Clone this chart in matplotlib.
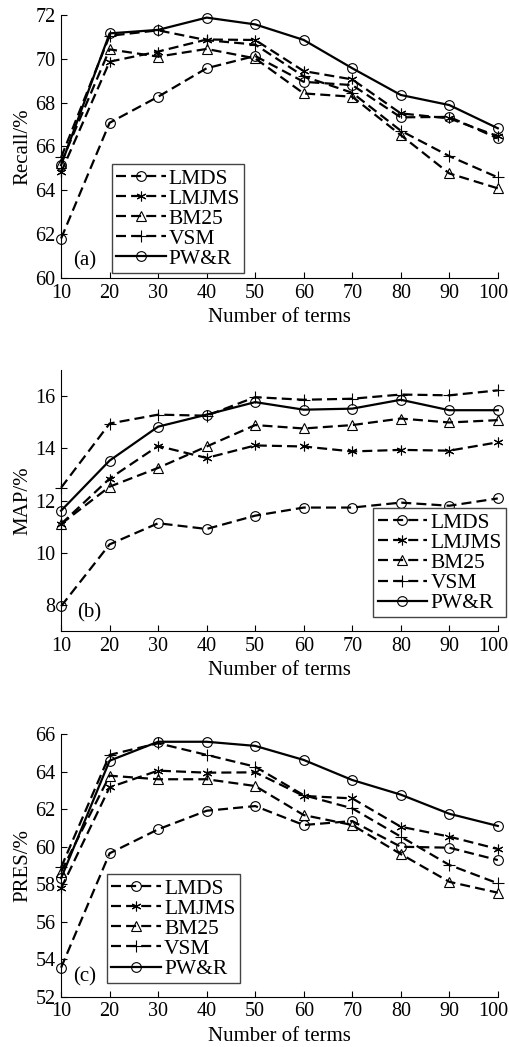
import matplotlib
matplotlib.use("Agg")
import matplotlib.pyplot as plt
from matplotlib.transforms import ScaledTranslation

plt.rcParams['font.family'] = ['Liberation Serif', 'DejaVu Serif']

terms = [10, 20, 30, 40, 50, 60, 70, 80, 90, 100]
methods = ["LMDS", "LMJMS", "BM25", "VSM", "PW&R"]

recall_lmds = [61.8, 67.08, 68.27, 69.57, 70.13, 68.95, 68.8, 67.33, 67.35, 66.37]
recall_lmjms = [64.82, 69.87, 70.33, 70.88, 70.86, 69.44, 69.06, 67.51, 67.28, 66.47]
recall_bm25 = [65.25, 70.43, 70.1, 70.45, 70.02, 68.42, 68.27, 66.52, 64.77, 64.09]
recall_vsm = [65.5, 71.05, 71.3, 70.85, 70.65, 69.2, 68.45, 66.72, 65.56, 64.59]
recall_pwr = [65.15, 71.16, 71.32, 71.88, 71.57, 70.86, 69.57, 68.35, 67.89, 66.83]

map_lmds = [7.95, 10.32, 11.13, 10.91, 11.42, 11.73, 11.73, 11.92, 11.8, 12.08]
map_lmjms = [11.1, 12.84, 14.09, 13.63, 14.11, 14.07, 13.88, 13.94, 13.91, 14.23]
map_bm25 = [11.1, 12.53, 13.25, 14.07, 14.89, 14.76, 14.89, 15.14, 14.99, 15.08]
map_vsm = [12.49, 14.95, 15.29, 15.25, 15.96, 15.86, 15.9, 16.06, 16.03, 16.22]
map_pwr = [11.61, 13.53, 14.83, 15.29, 15.77, 15.48, 15.52, 15.86, 15.46, 15.46]

pres_lmds = [53.55, 59.65, 60.93, 61.92, 62.17, 61.16, 61.37, 60.0, 59.95, 59.29]
pres_lmjms = [57.78, 63.17, 64.06, 63.95, 63.97, 62.71, 62.58, 61.07, 60.54, 59.88]
pres_bm25 = [58.67, 63.79, 63.6, 63.6, 63.24, 61.69, 61.16, 59.61, 58.13, 57.55]
pres_vsm = [58.9, 64.9, 65.52, 64.9, 64.27, 62.75, 62.05, 60.54, 59.03, 58.05]
pres_pwr = [58.32, 64.59, 65.6, 65.6, 65.38, 64.63, 63.56, 62.78, 61.76, 61.11]

panels = [
    dict(series=[recall_lmds, recall_lmjms, recall_bm25, recall_vsm, recall_pwr],
         ylabel="Recall/%", ylim=(60, 72), yticks=[60, 62, 64, 66, 68, 70, 72],
         tag="(a)", pos=[0.120, 0.7345, 0.858, 0.2512],
         leg_anchor=(0.116, 0.018), tagxy=(0.028, 0.065)),
    dict(series=[map_lmds, map_lmjms, map_bm25, map_vsm, map_pwr],
         ylabel="MAP/%", ylim=(7, 17), yticks=[8, 10, 12, 14, 16],
         tag="(b)", pos=[0.120, 0.3973, 0.858, 0.2493],
         leg_anchor=(0.715, 0.052), tagxy=(0.036, 0.071)),
    dict(series=[pres_lmds, pres_lmjms, pres_bm25, pres_vsm, pres_pwr],
         ylabel="PRES/%", ylim=(52, 66), yticks=[52, 54, 56, 58, 60, 62, 64, 66],
         tag="(c)", pos=[0.120, 0.0480, 0.858, 0.2507],
         leg_anchor=(0.105, 0.051), tagxy=(0.028, 0.076)),
]

markers = ['o', (6, 2, 0), '^', '+', 'o']
styles = ['--', '--', '--', '--', '-']

fig = plt.figure(figsize=(5.09, 10.47), dpi=100)
for p in panels:
    ax = fig.add_axes(p['pos'])
    for vals, name, mk, ls in zip(p['series'], methods, markers, styles):
        kw = dict(color='black', linewidth=1.6, linestyle=ls, marker=mk,
                  markersize=7 if mk != '+' else 9, markerfacecolor='none',
                  markeredgecolor='black', markeredgewidth=0.8, label=name,
                  clip_on=False)
        if ls == '--':
            kw['dashes'] = (4.5, 2.3)
        ax.plot(terms, vals, **kw)
    ax.set_xlim(10, 100)
    ax.set_ylim(*p['ylim'])
    ax.set_xticks(terms)
    ax.set_yticks(p['yticks'])
    ax.spines['top'].set_visible(False)
    ax.spines['right'].set_visible(False)
    ax.spines['left'].set_linewidth(0.8)
    ax.spines['bottom'].set_linewidth(0.8)
    ax.tick_params(direction='in', length=4, width=0.8, labelsize=14.5, pad=4)
    last = ax.get_xticklabels()[-1]
    last.set_transform(last.get_transform() + ScaledTranslation(-5 / 100, 0, fig.dpi_scale_trans))
    ax.set_xlabel("Number of terms", fontsize=15, labelpad=4)
    ax.set_ylabel(p['ylabel'], fontsize=15, labelpad=2)
    ax.text(p['tagxy'][0], p['tagxy'][1], p['tag'], transform=ax.transAxes,
            fontsize=15, ha='left', va='center')
    leg = ax.legend(loc='lower left', bbox_to_anchor=p['leg_anchor'],
                    fontsize=15.5, frameon=True, fancybox=False, framealpha=1,
                    edgecolor='#444444', labelspacing=0.0, borderpad=0.2,
                    handlelength=2.3, handletextpad=0.15, borderaxespad=0,
                    numpoints=1)
    leg.get_frame().set_linewidth(1.0)

fig.savefig("out.png", dpi=100)
